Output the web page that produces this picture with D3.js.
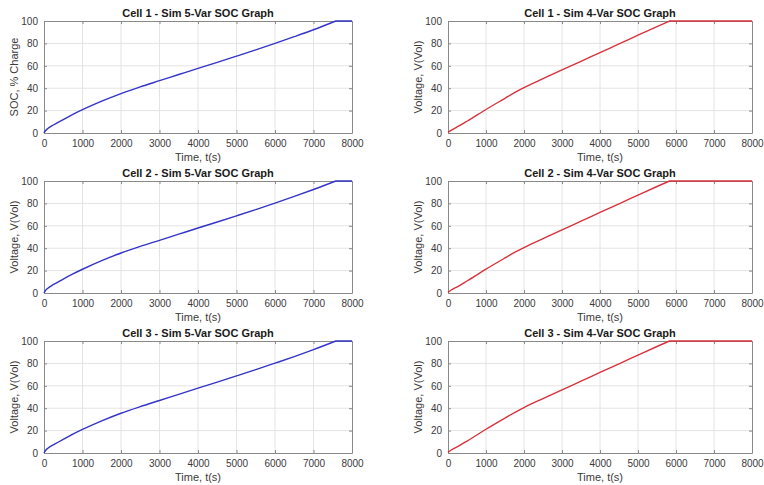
<!DOCTYPE html>
<html>
<head>
<meta charset="utf-8">
<script src="https://cdn.jsdelivr.net/npm/d3@7"></script>
<style>
  body { margin: 0; background: #fff; }
  svg text { font-family: "Liberation Sans", Arial, sans-serif; }
</style>
</head>
<body>
<script>
// ---- data ----
const xTicks = [0, 1000, 2000, 3000, 4000, 5000, 6000, 7000, 8000];
const yTicks = [0, 20, 40, 60, 80, 100];

const t5 = [0, 50, 100, 200, 300, 500, 750, 1000, 1500, 2000, 2500, 3000, 3500, 4000, 4500, 5000, 5500, 6000, 6500, 7000, 7580, 8000];
const soc5cell1 = [0, 2.5, 4, 6.3, 8.2, 12, 16.6, 20.8, 28.4, 35.2, 41.2, 46.7, 52.2, 57.7, 63.1, 68.6, 74.2, 80, 86, 92.2, 100, 100];
const soc5cell2 = [0, 2.8, 4.3, 6.6, 8.5, 12.4, 17, 21.2, 28.9, 35.7, 41.6, 47, 52.5, 58, 63.4, 68.9, 74.5, 80.3, 86.2, 92.4, 100, 100];
const soc5cell3 = [0, 2.7, 4.2, 6.5, 8.4, 12.2, 16.8, 21, 28.7, 35.5, 41.4, 46.9, 52.4, 57.9, 63.3, 68.8, 74.4, 80.2, 86.1, 92.3, 100, 100];

const t4 = [0, 100, 200, 500, 1000, 1500, 1750, 2000, 2500, 3000, 3500, 4000, 4500, 5000, 5500, 5830, 8000];
const soc4cell1 = [0.5, 2.8, 4.6, 10.5, 21, 31, 36, 40.5, 48.5, 56.3, 64, 71.8, 79.5, 87.3, 95, 100, 100];
const soc4cell2 = [0.5, 2.9, 4.7, 10.7, 21.3, 31.3, 36.2, 40.6, 48.6, 56.4, 64.1, 71.9, 79.6, 87.4, 95.1, 100, 100];
const soc4cell3 = [0.5, 2.9, 4.7, 10.6, 21.2, 31.2, 36.1, 40.6, 48.6, 56.4, 64.1, 71.9, 79.6, 87.4, 95.1, 100, 100];

const panels = [
  { title: "Cell 1 - Sim 5-Var SOC Graph", ylab: "SOC, % Charge", t: t5, v: soc5cell1, col: 0, row: 0, color: "#3434c8" },
  { title: "Cell 1 - Sim 4-Var SOC Graph", ylab: "Voltage, V(Vol)", t: t4, v: soc4cell1, col: 1, row: 0, color: "#d8323c" },
  { title: "Cell 2 - Sim 5-Var SOC Graph", ylab: "Voltage, V(Vol)", t: t5, v: soc5cell2, col: 0, row: 1, color: "#3434c8" },
  { title: "Cell 2 - Sim 4-Var SOC Graph", ylab: "Voltage, V(Vol)", t: t4, v: soc4cell2, col: 1, row: 1, color: "#d8323c" },
  { title: "Cell 3 - Sim 5-Var SOC Graph", ylab: "Voltage, V(Vol)", t: t5, v: soc5cell3, col: 0, row: 2, color: "#3434c8" },
  { title: "Cell 3 - Sim 4-Var SOC Graph", ylab: "Voltage, V(Vol)", t: t4, v: soc4cell3, col: 1, row: 2, color: "#d8323c" }
];

const W = 764, H = 485;
const colX = [[44, 352], [448, 752]];
const rowY = [21, 181, 341];
const ph = 112;

const svg = d3.select("body").append("svg")
  .attr("width", W)
  .attr("height", H);

panels.forEach(p => {
  const [x0, x1] = colX[p.col];
  const y0 = rowY[p.row];

  const x = d3.scaleLinear().domain([0, 8000]).range([x0, x1]);
  const y = d3.scaleLinear().domain([0, 100]).range([y0 + ph, y0]);

  const g = svg.append("g");

  // grid
  g.append("g")
    .selectAll("line")
    .data(xTicks.slice(1, -1))
    .join("line")
    .attr("x1", d => x(d)).attr("x2", d => x(d))
    .attr("y1", y0).attr("y2", y0 + ph)
    .attr("stroke", "#e4e4e4");
  g.append("g")
    .selectAll("line")
    .data(yTicks.slice(1, -1))
    .join("line")
    .attr("x1", x0).attr("x2", x1)
    .attr("y1", d => y(d)).attr("y2", d => y(d))
    .attr("stroke", "#e4e4e4");

  // axes (ticks inside, mirrored on top/right)
  const fmt = d3.format("d");
  const axB = g.append("g").attr("transform", `translate(0,${y0 + ph})`)
    .call(d3.axisBottom(x).tickValues(xTicks).tickFormat(fmt).tickSizeInner(-3).tickSizeOuter(0).tickPadding(7));
  const axL = g.append("g").attr("transform", `translate(${x0},0)`)
    .call(d3.axisLeft(y).tickValues(yTicks).tickFormat(fmt).tickSizeInner(-3).tickSizeOuter(0).tickPadding(6));
  const axT = g.append("g").attr("transform", `translate(0,${y0})`)
    .call(d3.axisTop(x).tickValues(xTicks).tickSizeInner(-3).tickSizeOuter(0).tickFormat(""));
  const axR = g.append("g").attr("transform", `translate(${x1},0)`)
    .call(d3.axisRight(y).tickValues(yTicks).tickSizeInner(-3).tickSizeOuter(0).tickFormat(""));

  [axB, axL, axT, axR].forEach(a => {
    a.select(".domain").attr("stroke", "#8a8a8a");
    a.selectAll(".tick line").attr("stroke", "#8a8a8a");
    a.selectAll(".tick text")
      .attr("fill", "#3a3a3a")
      .style("font-size", "10px");
  });

  // line: smooth rising part, straight plateau once it hits 100
  const pts = p.t.map((t, i) => [t, p.v[i]]);
  const k = p.v.indexOf(100);
  const rise = d3.line().x(d => x(d[0])).y(d => y(d[1])).curve(d3.curveMonotoneX);
  const flat = d3.line().x(d => x(d[0])).y(d => y(d[1]));
  g.append("path")
    .attr("fill", "none")
    .attr("stroke", p.color)
    .attr("stroke-width", 1.4)
    .attr("stroke-linejoin", "round")
    .attr("d", rise(pts.slice(0, k + 1)) + flat(pts.slice(k)).replace(/^M[^L]*/, ""));

  // title
  g.append("text")
    .attr("x", (x0 + x1) / 2)
    .attr("y", y0 - 4)
    .attr("text-anchor", "middle")
    .style("font-size", "11px")
    .style("font-weight", "bold")
    .attr("fill", "#1a1a1a")
    .text(p.title);

  // x label
  g.append("text")
    .attr("x", (x0 + x1) / 2)
    .attr("y", y0 + ph + 28)
    .attr("text-anchor", "middle")
    .style("font-size", "11px")
    .attr("fill", "#3a3a3a")
    .text("Time, t(s)");

  // y label
  g.append("text")
    .attr("transform", `translate(${x0 - 26},${y0 + ph / 2}) rotate(-90)`)
    .attr("text-anchor", "middle")
    .style("font-size", "11px")
    .attr("fill", "#3a3a3a")
    .text(p.ylab);
});
</script>
</body>
</html>
